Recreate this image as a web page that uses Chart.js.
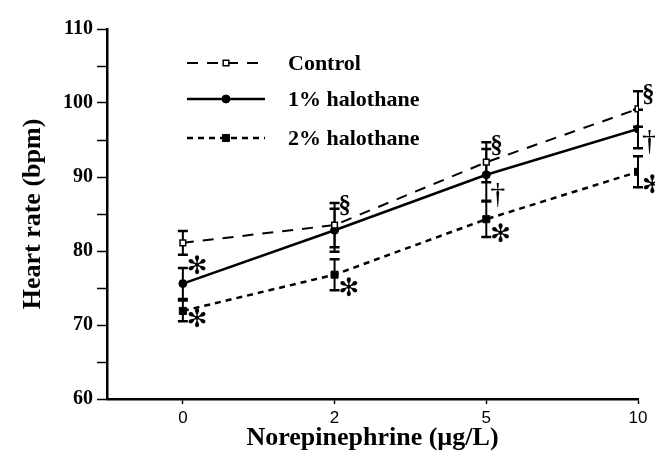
<!DOCTYPE html>
<html>
<head>
<meta charset="utf-8">
<script src="https://cdn.jsdelivr.net/npm/chart.js@4.4.0/dist/chart.umd.min.js"></script>
<style>
  html, body { margin: 0; padding: 0; background: #fff; }
  #wrap { width: 655px; height: 470px; }
</style>
</head>
<body>
<div id="wrap"><canvas id="mycanvas"></canvas></div>
<script>
// x categories (norepinephrine, ug/L), placed evenly
var doseLabels = ['0', '2', '5', '10'];
var seriesNames = ['Control', '1% halothane', '2% halothane'];

// heart rate means and error bars (bpm)
var controlMean = [81.1, 83.5, 92.0, 99.2];
var controlErr  = [1.6, 3.0, 2.7, 2.4];
var halo1Mean   = [75.6, 82.8, 90.3, 96.5];
var halo1Err    = [2.1, 2.9, 3.5, 2.6];
var halo2Mean   = [71.9, 76.8, 84.3, 90.7];
var halo2Err    = [1.4, 2.1, 2.4, 2.1];

// significance marks next to the points
var controlMarks = ['', '§', '§', '§'];
var halo1Marks   = ['*', '', '†', '†'];
var halo2Marks   = ['*', '*', '*', '*'];

var yMin = 60, yMax = 110;

function toPoints(arr) {
  var out = [];
  for (var i in arr) out.push({ x: Number(i), y: arr[i] });
  return out;
}

var errorBars = {
  id: 'errorBars',
  beforeDatasetsDraw: function(chart) {
    var ctx = chart.ctx, xs = chart.scales.x, ys = chart.scales.y;
    ctx.save();
    ctx.strokeStyle = '#000';
    ctx.lineWidth = 2;
    chart.data.datasets.forEach(function(ds) {
      ds.data.forEach(function(p, i) {
        var x = xs.getPixelForValue(p.x);
        var top = ys.getPixelForValue(p.y + ds.err[i]);
        var bot = ys.getPixelForValue(p.y - ds.err[i]);
        ctx.beginPath();
        ctx.moveTo(x, top); ctx.lineTo(x, bot);
        ctx.stroke();
        ctx.lineWidth = 2.5;
        ctx.beginPath();
        ctx.moveTo(x - 5, top); ctx.lineTo(x + 5, top);
        ctx.moveTo(x - 5, bot); ctx.lineTo(x + 5, bot);
        ctx.stroke();
        ctx.lineWidth = 2;
      });
    });
    ctx.restore();
  }
};

var marksPlugin = {
  id: 'marks',
  afterDatasetsDraw: function(chart) {
    var ctx = chart.ctx, xs = chart.scales.x, ys = chart.scales.y;
    ctx.save();
    ctx.fillStyle = '#000';
    ctx.textAlign = 'left';
    ctx.textBaseline = 'middle';
    chart.data.datasets.forEach(function(ds) {
      ds.marks.forEach(function(m, i) {
        if (!m) return;
        var p = ds.data[i];
        var x = xs.getPixelForValue(p.x) + 4;
        var y, glyph = m;
        if (m === '†') {
          ctx.font = '30px "Liberation Serif"';
          y = ys.getPixelForValue(p.y - ds.err[i]) - 6;
        } else if (m === '§') {
          ctx.font = 'bold 25px "Liberation Serif"';
          y = ys.getPixelForValue(p.y + ds.err[i]) + 4;
        } else {
          ctx.font = 'bold 25px "DejaVu Sans"';
          glyph = '\u273B';
          if (ds.markSide === 'top') y = ys.getPixelForValue(p.y + ds.err[i]) - 1;
          else y = ys.getPixelForValue(p.y - ds.err[i]) - 1;
        }
        ctx.fillText(glyph, x, y);
      });
    });
    ctx.restore();
  }
};

var legendPlugin = {
  id: 'insideLegend',
  afterDraw: function(chart) {
    var ctx = chart.ctx;
    var rows = [63, 99, 138];
    ctx.save();
    chart.data.datasets.forEach(function(ds, k) {
      var y = rows[k];
      ctx.strokeStyle = '#000';
      ctx.lineWidth = ds.borderWidth;
      ctx.setLineDash(ds.borderDash || []);
      ctx.beginPath();
      ctx.moveTo(187, y); ctx.lineTo(265, y);
      ctx.stroke();
      ctx.setLineDash([]);
      ctx.fillStyle = ds.pointBackgroundColor;
      ctx.strokeStyle = '#000';
      ctx.lineWidth = ds.pointBorderWidth;
      Chart.helpers.drawPoint(ctx, {
        pointStyle: ds.pointStyle, radius: ds.pointRadius,
        rotation: 0, borderWidth: ds.pointBorderWidth
      }, 226, y);
      ctx.fillStyle = '#000';
      ctx.font = 'bold 22px "Liberation Serif"';
      ctx.textAlign = 'left';
      ctx.textBaseline = 'middle';
      ctx.fillText(ds.label, 288, y + 1);
    });
    ctx.restore();
  }
};

var chartdata = {
  datasets: [
    {
      label: seriesNames[0],
      data: toPoints(controlMean),
      err: controlErr,
      marks: controlMarks,
      markSide: 'top',
      borderColor: '#000',
      borderWidth: 2,
      borderDash: [11, 9],
      pointStyle: 'rect',
      pointRadius: 4,
      pointBackgroundColor: '#fff',
      pointBorderColor: '#000',
      pointBorderWidth: 1.5
    },
    {
      label: seriesNames[1],
      data: toPoints(halo1Mean),
      err: halo1Err,
      marks: halo1Marks,
      markSide: 'top',
      borderColor: '#000',
      borderWidth: 2.5,
      pointStyle: 'circle',
      pointRadius: 4,
      pointBackgroundColor: '#000',
      pointBorderColor: '#000',
      pointBorderWidth: 1
    },
    {
      label: seriesNames[2],
      data: toPoints(halo2Mean),
      err: halo2Err,
      marks: halo2Marks,
      markSide: 'bottom',
      borderColor: '#000',
      borderWidth: 2.5,
      borderDash: [6, 5],
      pointStyle: 'rect',
      pointRadius: 5,
      pointBackgroundColor: '#000',
      pointBorderColor: '#000',
      pointBorderWidth: 1
    }
  ]
};

var ctx = document.getElementById('mycanvas');

var LineGraph = new Chart(ctx, {
  type: 'line',
  data: chartdata,
  plugins: [errorBars, marksPlugin, legendPlugin],
  options: {
    responsive: true,
    maintainAspectRatio: false,
    animation: false,
    layout: { padding: { left: 0, right: 17, top: 29, bottom: 0 } },
    elements: { line: { tension: 0, fill: false } },
    plugins: {
      legend: { display: false },
      tooltip: { enabled: false }
    },
    scales: {
      x: {
        type: 'linear',
        min: -0.5,
        max: 3,
        afterBuildTicks: function(scale) {
          scale.ticks = doseLabels.map(function(l, i) { return { value: i }; });
        },
        afterFit: function(scale) { scale.height = 71; },
        grid: { drawOnChartArea: false, color: '#000', tickLength: 5, tickWidth: 1.5 },
        border: { color: '#000', width: 2.5 },
        ticks: {
          color: '#000',
          padding: 4,
          maxRotation: 0,
          font: { family: '"Liberation Sans"', size: 17 },
          callback: function(v) { return doseLabels[v]; }
        },
        title: {
          display: true,
          text: 'Norepinephrine (\u00B5g/L)',
          color: '#000',
          padding: { top: 2, bottom: 16 },
          font: { family: '"Liberation Serif"', size: 26, weight: 'bold' }
        }
      },
      y: {
        min: yMin,
        max: yMax,
        afterFit: function(scale) { scale.width = 107; },
        grid: { drawOnChartArea: false, color: '#000', tickLength: 10, tickWidth: 1.5 },
        border: { color: '#000', width: 2.5 },
        ticks: {
          stepSize: 5,
          color: '#000',
          padding: 4,
          font: { family: '"Liberation Serif"', size: 20, weight: 'bold' },
          callback: function(v) { return v % 10 === 0 ? v : ''; }
        },
        title: {
          display: true,
          text: 'Heart rate (bpm)',
          color: '#000',
          padding: { top: 18, bottom: 4 },
          font: { family: '"Liberation Serif"', size: 26, weight: 'bold' }
        }
      }
    }
  }
});
</script>
</body>
</html>
